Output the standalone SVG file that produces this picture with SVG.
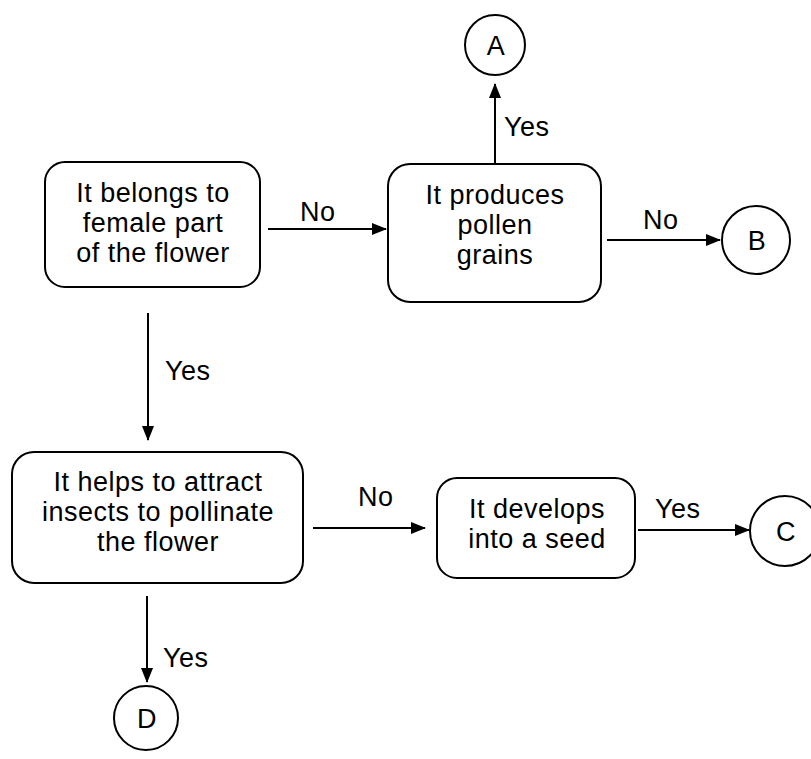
<svg xmlns="http://www.w3.org/2000/svg" width="811" height="759" viewBox="0 0 811 759">
<defs>
<marker id="ah" markerWidth="15" markerHeight="12" refX="14" refY="6" orient="auto" markerUnits="userSpaceOnUse">
<path d="M0,0 L15,6 L0,12 Z" fill="#000"/>
</marker>
<style>
.box{fill:#fff;stroke:#000;stroke-width:2}
.t{font-family:"Liberation Sans",Arial,sans-serif;font-size:27px;fill:#000;letter-spacing:0.5px}
.c{text-anchor:middle}
.edge{stroke:#000;stroke-width:2;fill:none;marker-end:url(#ah)}
</style>
</defs>
<rect width="811" height="759" fill="#fff"/>
<g id="connectors">
<line class="edge" x1="268" y1="229" x2="386" y2="229"/>
<line class="edge" x1="495" y1="163" x2="495" y2="84"/>
<line class="edge" x1="607" y1="240" x2="720" y2="240"/>
<line class="edge" x1="148" y1="313" x2="148" y2="440"/>
<line class="edge" x1="313" y1="528" x2="425" y2="528"/>
<line class="edge" x1="638" y1="530" x2="749" y2="530"/>
<line class="edge" x1="147" y1="596" x2="147" y2="682"/>
<text class="t" x="300" y="221">No</text>
<text class="t" x="504" y="136">Yes</text>
<text class="t" x="643" y="229">No</text>
<text class="t" x="165" y="380">Yes</text>
<text class="t" x="358" y="506">No</text>
<text class="t" x="655" y="518">Yes</text>
<text class="t" x="163" y="667">Yes</text>
</g>
<g id="n1">
<rect class="box" x="45" y="162" width="215" height="125" rx="20"/>
<text class="t c" x="153" y="202">It belongs to</text>
<text class="t c" x="153" y="232">female part</text>
<text class="t c" x="153" y="262">of the flower</text>
</g>
<g id="n2">
<rect class="box" x="388" y="164" width="213" height="138" rx="22"/>
<text class="t c" x="495" y="204">It produces</text>
<text class="t c" x="495" y="234">pollen</text>
<text class="t c" x="495" y="264">grains</text>
</g>
<g id="nA">
<circle class="box" cx="495" cy="45" r="30"/>
<text class="t c" x="496" y="55">A</text>
</g>
<g id="nB">
<circle class="box" cx="756" cy="240" r="34"/>
<text class="t c" x="757" y="250">B</text>
</g>
<g id="n3">
<rect class="box" x="12" y="452" width="291" height="131" rx="22"/>
<text class="t c" x="158" y="491">It helps to attract</text>
<text class="t c" x="158" y="521">insects to pollinate</text>
<text class="t c" x="158" y="551">the flower</text>
</g>
<g id="n4">
<rect class="box" x="437" y="478" width="198" height="100" rx="20"/>
<text class="t c" x="537" y="518">It develops</text>
<text class="t c" x="537" y="548">into a seed</text>
</g>
<g id="nC">
<circle class="box" cx="785" cy="531" r="35"/>
<text class="t c" x="786" y="541">C</text>
</g>
<g id="nD">
<circle class="box" cx="146" cy="718" r="32"/>
<text class="t c" x="147" y="728">D</text>
</g>
</svg>
